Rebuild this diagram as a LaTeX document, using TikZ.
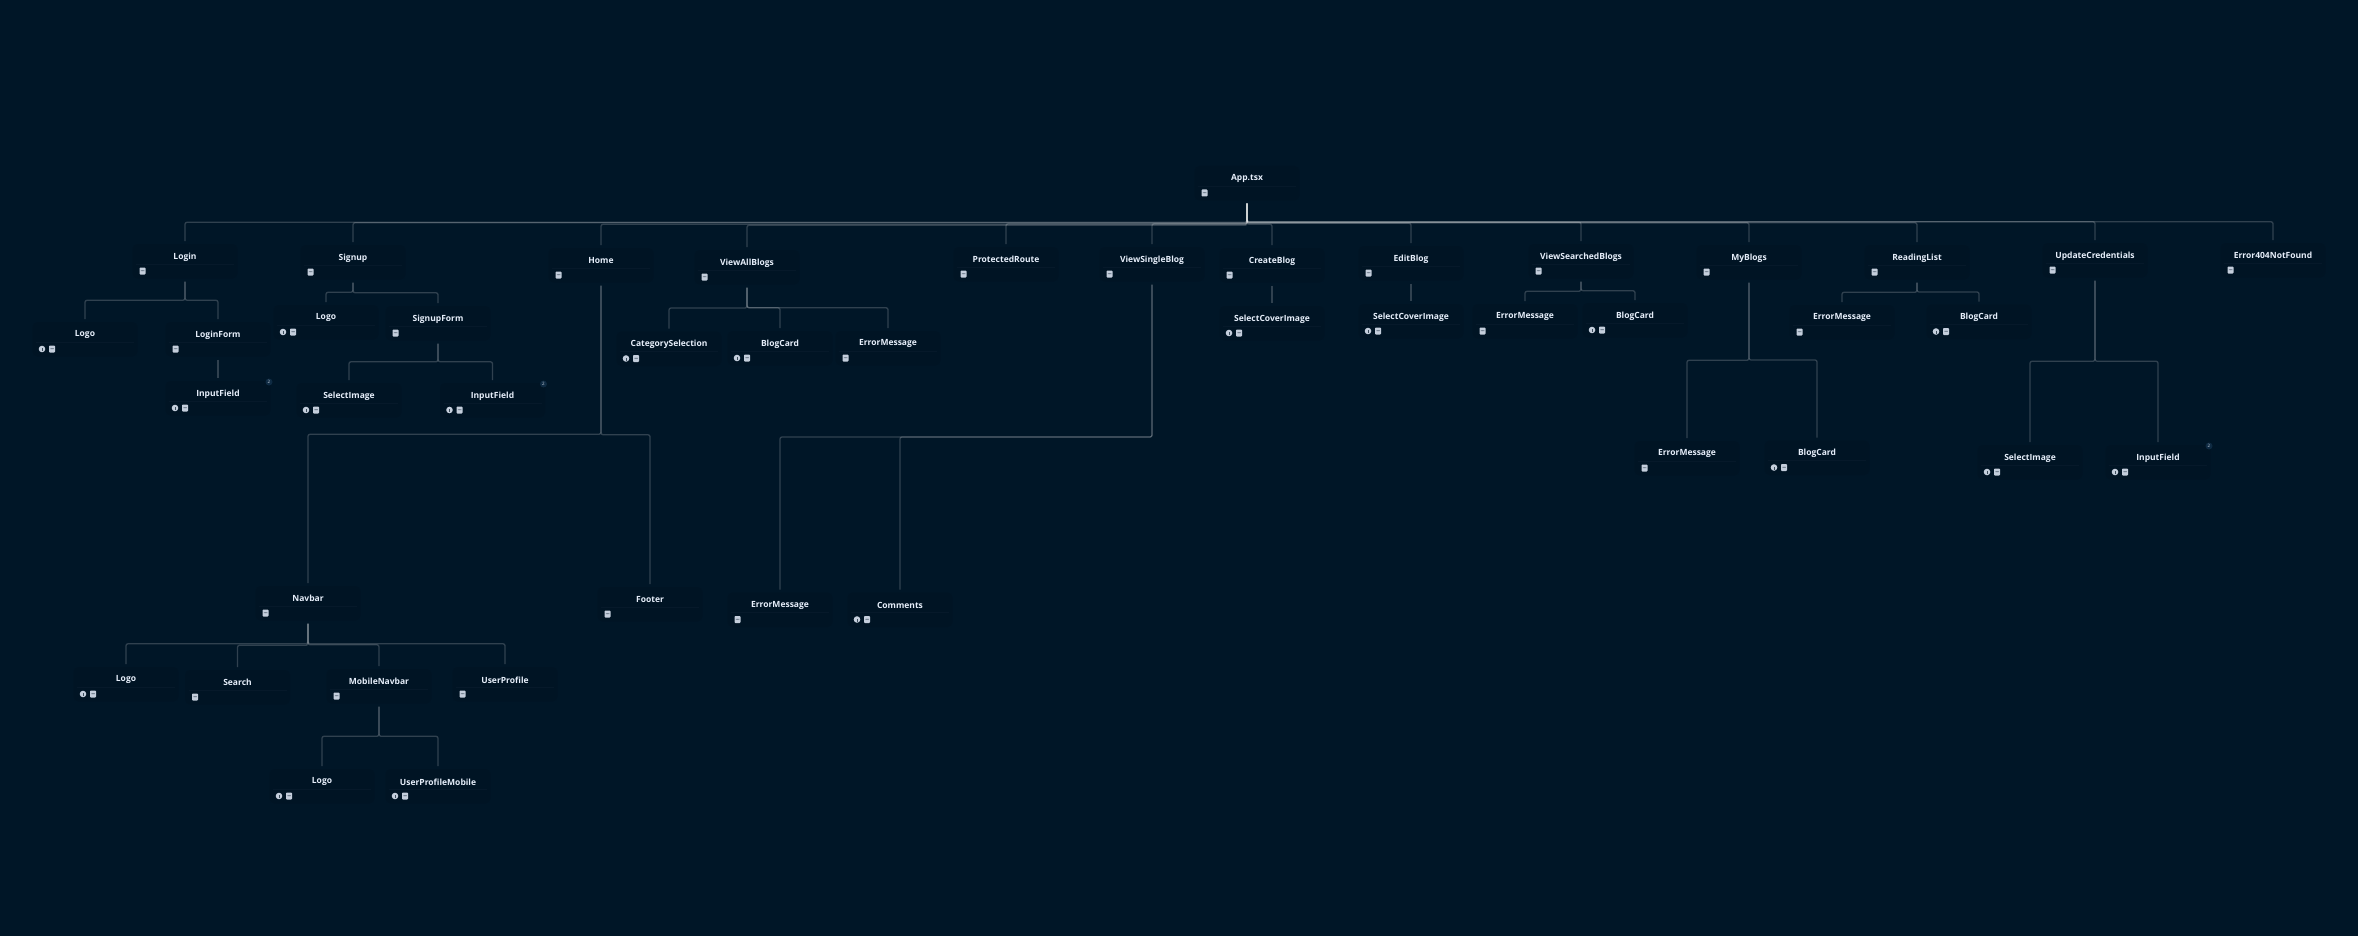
\documentclass[tikz,border=0pt]{standalone}
\usepackage{fontspec}
\setmainfont{Open Sans}
\usetikzlibrary{calc}
\definecolor{pagebg}{HTML}{001627}
\definecolor{cardbg}{HTML}{001424}
\definecolor{rulebg}{HTML}{06192A}
\definecolor{titlec}{HTML}{E6EEFA}
\definecolor{iconc}{HTML}{C4CEDC}
\definecolor{badgec}{HTML}{0E2A42}
\tikzset{
  cardbox/.style={rectangle,rounded corners=5pt,fill=cardbg,minimum width=105pt,minimum height=34.5pt,inner sep=0pt,outer sep=3pt},
  cardtitle/.style={inner sep=0pt,text=titlec,font=\bfseries\fontsize{8.5}{10}\selectfont},
  wire/.style={line width=1.3pt,draw=white,draw opacity=0.19,rounded corners=2pt},
  fileicon/.style={rectangle,fill=iconc,rounded corners=0.8pt,minimum width=6pt,minimum height=7pt,inner sep=0pt,
    path picture={\fill[cardbg!60!iconc] ([shift={(-1.2pt,-3.6pt)}]path picture bounding box.north east) rectangle ++(-3.4pt,0.7pt);}},
  infoicon/.style={circle,fill=iconc,minimum size=6.6pt,inner sep=0pt,
    path picture={\fill[cardbg!70!iconc] ([shift={(-0.4pt,-2.2pt)}]path picture bounding box.center) rectangle ++(0.8pt,3pt);}},
  badgenode/.style={circle,fill=badgec,minimum size=7pt,inner sep=0pt,text=iconc,font=\fontsize{4.5}{5}\selectfont},
}
\begin{document}
\begin{tikzpicture}[x=1pt,y=-1pt]
  \fill[pagebg] (0,0) rectangle (2358,936);
  \useasboundingbox (0,0) rectangle (2358,936);
  % cards: name/x/y of the title/text
  \foreach \id/\cx/\cy/\txt in {
    app/1247/178/App.tsx,
    login/185/256/Login, signup/353/257/Signup, home/601/260/Home, allblogs/747/262/ViewAllBlogs,
    route/1006/259/ProtectedRoute, single/1152/259/ViewSingleBlog, create/1272/260/CreateBlog,
    edit/1411/258/EditBlog, searched/1581/256/ViewSearchedBlogs, myblogs/1749/257/MyBlogs,
    reading/1917/257/ReadingList, update/2095/255/UpdateCredentials, notfound/2273/255/Error404NotFound,
    loginlogo/85/334/Logo, loginform/218/334/LoginForm, logininput/218/393/InputField,
    signuplogo/326/317/Logo, signupform/438/318/SignupForm, signupimg/349/395/SelectImage, signupinput/492.5/395/InputField,
    category/669/343.5/CategorySelection, allcard/780/343/BlogCard, allerr/888/343/ErrorMessage,
    navbar/308/598/Navbar, footer/650/599/Footer,
    navlogo/126/679/Logo, search/237.5/682/Search, mobile/379/681/MobileNavbar, profile/505/679/UserProfile,
    mobilelogo/322/781/Logo, profilemobile/438/781/UserProfileMobile,
    singleerr/780/604.5/ErrorMessage, comments/900/604.5/Comments,
    createimg/1272/318/SelectCoverImage, editimg/1411/316/SelectCoverImage,
    searcherr/1525/316/ErrorMessage, searchcard/1635/315/BlogCard,
    myerr/1687/453/ErrorMessage, mycard/1817/452.5/BlogCard,
    readerr/1842/317/ErrorMessage, readcard/1979/316.5/BlogCard,
    updateimg/2030/457/SelectImage, updateinput/2158/457/InputField} {
    \node[cardbox] (\id) at (\cx,\cy+5.25) {};
    \node[cardtitle] (\id-t) at (\cx,\cy+0.8) {\txt};
    \draw[rulebg,line width=0.8pt] ([shift={(-49,2.75)}]\id.center) -- ([shift={(49,2.75)}]\id.center);
  }
  % file icon alone
  \foreach \id in {app,login,signup,home,allblogs,route,single,create,edit,searched,myblogs,reading,update,notfound,
    loginform,signupform,allerr,navbar,footer,search,mobile,profile,singleerr,searcherr,myerr,readerr}
    \node[fileicon] (\id-f) at ([shift={(-42.5,9.75)}]\id.center) {};
  % info and file icon
  \foreach \id in {loginlogo,logininput,signuplogo,signupimg,signupinput,category,allcard,navlogo,mobilelogo,profilemobile,
    comments,createimg,editimg,searchcard,mycard,readcard,updateimg,updateinput} {
    \node[infoicon] (\id-i) at ([shift={(-43,9.75)}]\id.center) {};
    \node[fileicon] (\id-f) at ([shift={(-33,9.75)}]\id.center) {};
  }
  \foreach \id in {logininput,signupinput,updateinput}
    \node[badgenode] (\id-b) at ([shift={(51,-16.25)}]\id.center) {2};
  % connectors
  \foreach \up/\kid in {app/login,app/signup,app/home,app/allblogs,app/route,app/single,app/create,app/edit,app/searched,
    app/myblogs,app/reading,app/update,app/notfound,
    login/loginlogo,login/loginform,loginform/logininput,
    signup/signuplogo,signup/signupform,signupform/signupimg,signupform/signupinput,
    allblogs/category,allblogs/allcard,allblogs/allerr,
    home/navbar,home/footer,navbar/navlogo,navbar/search,navbar/mobile,navbar/profile,mobile/mobilelogo,mobile/profilemobile,
    single/singleerr,single/comments,create/createimg,edit/editimg,
    searched/searcherr,searched/searchcard,myblogs/myerr,myblogs/mycard,
    reading/readerr,reading/readcard,update/updateimg,update/updateinput}
    \draw[wire] (\up.south) |- ($(\up.south)!.5!(\kid.north)$) -| (\kid.north);
\end{tikzpicture}
\end{document}
